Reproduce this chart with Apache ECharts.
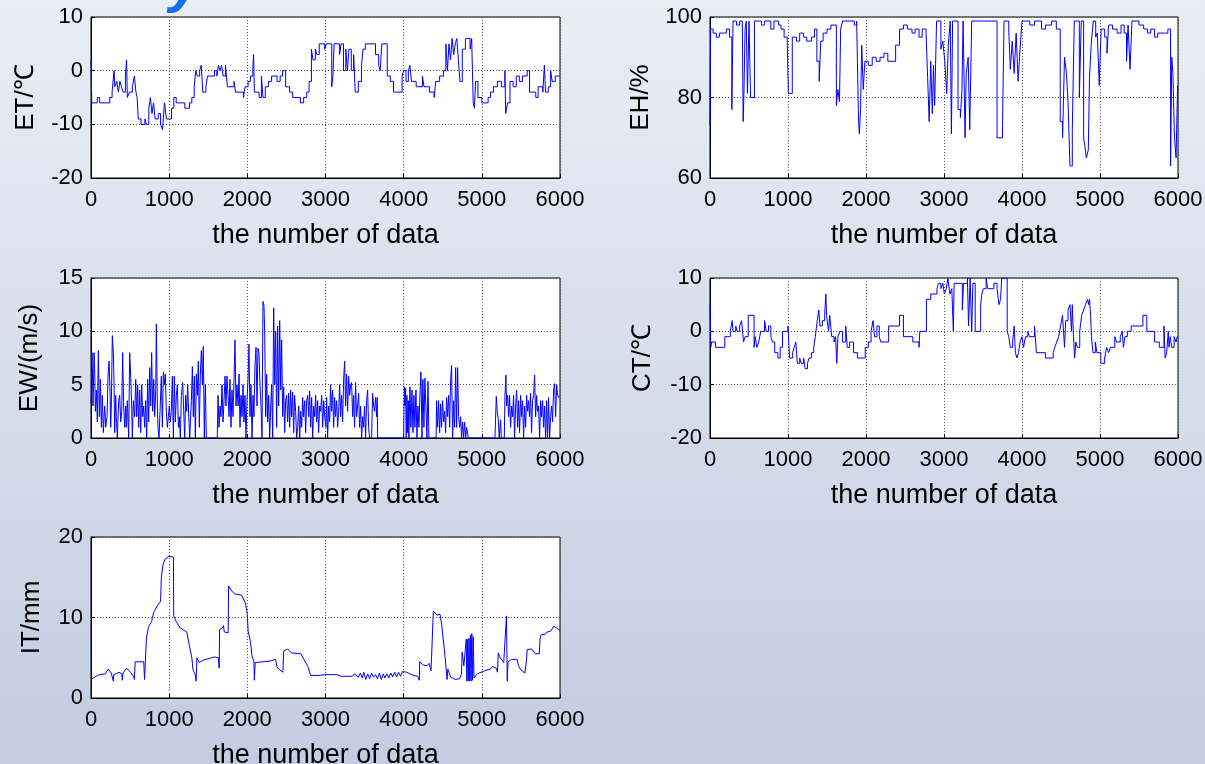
<!DOCTYPE html>
<html>
<head>
<meta charset="utf-8">
<script src="https://cdn.jsdelivr.net/npm/echarts@6/dist/echarts.min.js"></script>
<style>
html,body{margin:0;padding:0;}
#chart{width:1205px;height:764px;}
</style>
</head>
<body>
<div id="chart"></div>
<script>
// ---- data (x = index of data, y = value) ----
const xTicks = [0, 1000, 2000, 3000, 4000, 5000, 6000];
const xName = 'the number of data';
const yNames = ['ET/℃', 'EH/%', 'EW/(m/s)', 'CT/℃', 'IT/mm'];

const etPoints = [[0,2],[10,-6],[80,-5],[110,-6],[240,-5],[270,-4],[295,0],[305,-3],[330,-2],[350,-4],[370,-2],[390,-3],[410,-4],[440,-1],[455,2],[465,-5],[490,-4],[530,-3],[555,-1],[575,-4],[590,-5],[605,-9],[640,-10],[690,-9],[710,-10],[740,-7],[760,-5],[780,-8],[800,-6],[820,-9],[860,-8],[890,-10],[915,-11],[940,-6],[965,-9],[1030,-7],[1060,-5],[1090,-6],[1200,-7],[1260,-6],[1290,-5],[1320,-3],[1340,0],[1360,-1],[1390,0],[1410,1],[1430,-4],[1470,-3],[1490,-1],[1580,0],[1610,-1],[1630,1],[1650,0],[1670,1],[1690,-1],[1720,1],[1745,-3],[1830,-2],[1850,-4],[1950,-5],[1970,-3],[2010,-2],[2040,-1],[2070,0],[2080,3],[2090,-4],[2150,-5],[2180,-1],[2200,-5],[2230,-3],[2270,-2],[2310,-1],[2380,-2],[2420,-1],[2450,0],[2490,-3],[2540,-4],[2580,-5],[2680,-6],[2720,-5],[2760,-4],[2790,-2],[2820,4],[2840,2],[2870,4],[2890,3],[2920,5],[2990,4],[3010,5],[3080,-3],[3095,-1],[3110,5],[3180,3],[3200,5],[3230,0],[3260,4],[3280,0],[3300,4],[3330,0],[3360,3],[3380,-4],[3420,-2],[3460,1],[3480,4],[3510,5],[3640,3],[3680,1],[3700,0],[3720,5],[3790,-1],[3830,-2],[3870,-4],[3980,-1],[4000,0],[4030,-2],[4060,0],[4080,1],[4100,-2],[4160,-3],[4240,-1],[4260,-3],[4330,-4],[4390,-5],[4410,-2],[4460,-1],[4510,0],[4540,5],[4560,0],[4580,5],[4600,2],[4620,6],[4640,3],[4660,5],[4680,6],[4700,2],[4720,-2],[4750,4],[4790,6],[4850,4],[4870,6],[4890,-6],[4905,-7],[4920,-2],[4950,-5],[5000,-6],[5080,-5],[5110,-4],[5150,-3],[5200,-2],[5250,-3],[5295,0],[5305,-8],[5330,-6],[5360,-2],[5400,-3],[5440,-1],[5480,-2],[5520,-1],[5580,0],[5610,-4],[5690,-5],[5720,-3],[5780,-4],[5800,1],[5815,-4],[5850,-3],[5880,0],[5900,-2],[5940,-1],[6000,-1]];

const ehPoints = [[0,73],[8,97],[40,96],[80,95],[120,96],[210,97],[250,95],[280,77],[295,99],[340,98],[380,99],[415,97],[425,74],[435,81],[450,97],[465,99],[480,81],[500,99],[520,80],[570,99],[660,98],[700,99],[780,97],[820,99],[880,98],[910,97],[950,95],[990,94],[1005,81],[1055,95],[1110,94],[1150,96],[1200,95],[1240,94],[1300,95],[1340,97],[1370,89],[1400,84],[1420,94],[1450,96],[1500,97],[1550,98],[1620,78],[1640,82],[1660,79],[1675,97],[1700,99],[1850,98],[1880,99],[1905,74],[1915,71],[1930,77],[1945,93],[1965,82],[1985,89],[2030,88],[2080,90],[2130,89],[2180,90],[2230,91],[2280,89],[2380,93],[2430,97],[2480,98],[2530,97],[2590,96],[2630,97],[2680,95],[2720,97],[2770,96],[2790,85],[2810,74],[2830,89],[2850,76],[2865,88],[2880,78],[2905,99],[2960,92],[2985,94],[3010,89],[3035,81],[3055,93],[3080,99],[3095,71],[3110,99],[3180,77],[3210,75],[3230,82],[3245,99],[3270,70],[3285,86],[3310,90],[3330,72],[3355,99],[3680,70],[3750,73],[3770,99],[3830,97],[3850,87],[3875,94],[3900,86],[3925,96],[3950,84],[3975,92],[4000,99],[4100,98],[4160,99],[4250,97],[4300,98],[4380,99],[4440,97],[4490,74],[4520,70],[4545,90],[4570,86],[4590,79],[4615,63],[4645,72],[4670,99],[4735,80],[4760,99],[4790,70],[4805,68],[4825,65],[4850,67],[4865,85],[4890,94],[4915,99],[4945,95],[4965,96],[4990,83],[5015,97],[5060,95],[5090,91],[5110,98],[5160,97],[5220,96],[5270,98],[5310,96],[5340,89],[5360,98],[5385,87],[5410,99],[5500,98],[5560,97],[5610,96],[5650,97],[5700,95],[5740,96],[5870,97],[5905,63],[5920,90],[5935,86],[5955,70],[5975,65],[5995,83],[6000,83]];

const ewPoints = [[0,3.5],[5,4],[13,8],[26,3],[39,8],[47,6.5],[56,2.5],[69,4.5],[81,1.5],[94,8.2],[107,2],[120,5.5],[133,1],[145,4],[158,0.5],[175,3],[188,1],[205,2],[218,5.8],[231,7.2],[243,4.5],[252,1],[260,3],[273,9.6],[286,8],[295,5],[303,0.5],[316,4],[324,2],[337,0],[354,3.5],[367,4],[380,1.5],[393,2.5],[405,8],[418,3],[431,1],[444,3],[452,1],[465,3.5],[482,0],[495,8],[508,5.8],[521,3],[529,0],[542,3.5],[559,2],[572,5.5],[585,2],[597,5],[610,1],[623,4.5],[636,0.5],[649,5],[661,2],[674,3],[687,1],[700,3.5],[712,0],[725,5.5],[738,1.5],[751,6.6],[764,3],[776,8],[789,2.5],[802,5.5],[815,2],[828,4.5],[836,10.7],[849,3],[857,1],[870,0],[883,2.5],[900,5.8],[913,1],[926,6.2],[938,5],[951,6],[964,2.5],[977,1],[990,2],[1002,3],[1015,1.5],[1028,2.5],[1041,5.8],[1054,0],[1066,5.8],[1079,1.5],[1092,4],[1105,5],[1118,1],[1130,2],[1143,0],[1156,4],[1173,5.2],[1186,2.5],[1199,0],[1211,4],[1224,2.5],[1237,5],[1250,2],[1263,0],[1284,3.5],[1297,6.7],[1309,2],[1322,5.8],[1335,0],[1348,6],[1361,4],[1373,7.2],[1386,1],[1399,6],[1412,8.2],[1425,5],[1437,8.6],[1450,0],[1463,5],[1476,0],[1615,0],[1625,4],[1638,1],[1651,3],[1663,2],[1676,5],[1689,1.5],[1702,3.5],[1715,5.8],[1727,3],[1740,5.8],[1753,4],[1766,2],[1778,5.5],[1791,1],[1804,4.5],[1817,2],[1830,5.5],[1842,9.2],[1855,3],[1868,5],[1881,3],[1894,6],[1906,1],[1919,4],[1932,2],[1945,5],[1957,1.5],[1970,4],[1983,0],[1996,3.5],[2009,5.5],[2021,8.8],[2034,2],[2047,5],[2060,0],[2073,4],[2085,2],[2098,6.8],[2111,8.5],[2124,3],[2136,8.4],[2149,8],[2162,5],[2175,3],[2188,0],[2200,12.8],[2213,12.4],[2222,10],[2235,2],[2248,6],[2260,1.5],[2273,4],[2286,0],[2299,3],[2311,5],[2324,0],[2337,12.2],[2350,5],[2363,10],[2375,1],[2388,10.5],[2401,3],[2414,11],[2427,4.5],[2439,9.2],[2452,2],[2465,4.8],[2478,0.5],[2490,3.5],[2503,4],[2516,1.5],[2529,4.2],[2542,1],[2554,4.5],[2567,2],[2580,4.3],[2593,0.5],[2605,4],[2618,2.5],[2631,0],[2644,1],[2657,3],[2670,0],[2682,2.5],[2695,1],[2708,3.8],[2720,2],[2734,3.5],[2746,0.5],[2759,3.5],[2772,4],[2785,2],[2797,4.4],[2810,1],[2823,3.8],[2836,0],[2849,3],[2862,2],[2874,4],[2887,1.5],[2900,3.5],[2912,0.5],[2925,3],[2938,2.5],[2951,4],[2964,1],[2977,3.5],[2990,2],[3006,1],[3014,3.8],[3027,0],[3040,3],[3053,1.5],[3065,5],[3078,2.5],[3091,4.5],[3104,1],[3117,3.8],[3129,2],[3142,3.5],[3155,1],[3168,2.5],[3181,5],[3193,2],[3206,4],[3219,1.5],[3232,5.5],[3245,7.2],[3257,3],[3270,6],[3283,2.5],[3296,5.8],[3309,4],[3321,5],[3334,5.2],[3347,2],[3360,4],[3372,1],[3385,5.2],[3398,2],[3411,3],[3424,4.2],[3436,1],[3449,3],[3462,0],[3475,2],[3488,1],[3500,3],[3513,0],[3526,3.5],[3539,4.5],[3552,1],[3564,0],[3590,0],[3603,4.2],[3616,3],[3628,2.5],[3641,3.8],[3654,2],[3662,3.8],[3667,0],[4000,0],[4008,4.8],[4016,3],[4025,4.7],[4033,0],[4042,4],[4050,0.5],[4059,3.5],[4067,0],[4080,4.8],[4093,1],[4106,4.5],[4119,0.5],[4131,4],[4144,1],[4157,4.5],[4170,0],[4183,3],[4195,1],[4208,4],[4221,6.2],[4234,0],[4246,5.5],[4259,1],[4272,5.6],[4285,5.5],[4298,0],[4311,5.3],[4323,0],[4415,0],[4421,3.5],[4434,1],[4447,3.5],[4460,0.5],[4473,3.2],[4485,1],[4498,3.5],[4511,1.5],[4524,2.5],[4537,0.5],[4549,3.8],[4562,2],[4575,4],[4588,1],[4601,5.5],[4613,6.8],[4626,0],[4639,3.5],[4652,1],[4665,6.6],[4677,1],[4690,6.6],[4703,2],[4716,1],[4729,2],[4741,0],[4754,1.5],[4767,0],[4780,1.5],[4793,0],[4805,1],[4818,1],[4827,0],[5168,0],[5185,3.9],[5197,2.5],[5210,1.8],[5223,0],[5240,1.7],[5249,0],[5287,0],[5296,4],[5308,5.9],[5317,3],[5330,4],[5342,2],[5355,4],[5368,1],[5381,3],[5394,2],[5406,4],[5419,0],[5432,3],[5445,4.5],[5458,1],[5470,3.5],[5483,0.5],[5496,4],[5509,2],[5521,3.5],[5534,0],[5547,3],[5560,1],[5573,4],[5586,2.5],[5598,3.5],[5611,2],[5624,4.2],[5636,0.5],[5649,3.5],[5662,4],[5675,5.9],[5688,2],[5701,4],[5713,2.5],[5726,3],[5739,0],[5752,3.5],[5765,2],[5777,3.5],[5790,1],[5803,3],[5816,0],[5829,3.5],[5841,0],[5854,3.8],[5867,0],[5880,2],[5893,3],[5905,1.5],[5918,4.5],[5931,5.1],[5944,2],[5957,5],[5969,4],[5982,3.8],[6000,4]];

const ctPoints = [[0,5],[10,-3],[20,-2],[70,-3],[190,-1],[260,0],[285,2],[295,0],[330,1],[350,0],[380,1],[405,2],[430,-2],[450,-1],[490,3],[565,-3],[580,-1],[600,-3],[625,-2],[650,0],[700,2],[720,0],[750,1],[780,-1],[800,-2],[830,-4],[870,-5],[900,-3],[930,0],[1000,1],[1020,-5],[1060,-4],[1080,-3],[1100,-2],[1120,-6],[1150,-5],[1170,-6],[1200,-5],[1220,-7],[1250,-6],[1270,-5],[1300,-4],[1330,-3],[1350,-1],[1375,2],[1395,4],[1410,1],[1440,2],[1470,3],[1485,7],[1495,3],[1520,0],[1535,3],[1560,-1],[1590,-2],[1610,-1],[1625,-6],[1640,-1],[1665,0],[1700,-2],[1740,1],[1760,-3],[1790,-2],[1840,-4],[1890,-5],[1990,-3],[2030,-2],[2065,0],[2090,2],[2110,-1],[2140,1],[2170,-1],[2190,-2],[2290,1],[2430,3],[2480,-1],[2600,-2],[2680,-3],[2690,0],[2775,6],[2830,7],[2910,8],[2930,9],[2960,8],[2985,9],[3005,7],[3030,8],[3050,10],[3075,7],[3100,8],[3120,0],[3130,9],[3235,4],[3250,9],[3300,10],[3315,1],[3335,10],[3355,0],[3370,9],[3400,0],[3470,5],[3485,7],[3505,8],[3540,10],[3560,8],[3640,9],[3680,8],[3705,5],[3725,6],[3740,10],[3810,0],[3830,-1],[3850,-3],[3880,-2],[3900,1],[3915,-4],[3935,-5],[3955,-4],[3975,-2],[4000,-1],[4020,-3],[4045,-1],[4075,0],[4095,-1],[4160,1],[4185,-4],[4300,-5],[4400,-4],[4420,-3],[4445,-2],[4470,-1],[4495,1],[4520,3],[4545,-3],[4560,2],[4590,4],[4615,5],[4635,0],[4645,5],[4660,-1],[4675,-5],[4690,-2],[4710,-3],[4740,0],[4765,3],[4790,4],[4815,5],[4840,6],[4855,5],[4865,6],[4880,3],[4890,-1],[4910,-4],[4940,-2],[4960,-4],[5010,-6],[5060,-5],[5085,-3],[5110,-4],[5135,-3],[5190,-1],[5210,-2],[5260,-1],[5285,0],[5300,-3],[5320,-1],[5350,0],[5400,1],[5550,3],[5600,0],[5700,-2],[5760,-3],[5820,1],[5835,-5],[5855,-4],[5875,0],[5885,-3],[5900,-1],[5920,-3],[5950,-1],[5975,-2],[5990,-1],[6000,-1]];

const itPoints = [[0,2.3],[30,2.5],[65,2.7],[110,2.9],[185,3.0],[220,3.6],[260,3.1],[280,3.0],[285,2.1],[292,2.9],[360,3.2],[395,3.0],[400,2.2],[410,3.1],[455,3.7],[505,3.2],[550,2.6],[555,2.3],[565,4.5],[675,4.5],[685,2.3],[700,5.5],[710,7.5],[735,8.8],[775,9.5],[800,10.6],[850,11.5],[890,12],[900,15],[920,16.5],[945,17.2],[995,17.6],[1055,17.5],[1058,10.2],[1090,9.5],[1140,8.7],[1190,8.4],[1225,8.2],[1265,6.2],[1290,5.0],[1305,3.5],[1330,3.0],[1345,2.1],[1355,5.0],[1385,4.4],[1435,4.7],[1510,4.9],[1580,5.1],[1630,5.0],[1640,3.7],[1645,8.5],[1680,8.7],[1695,9.0],[1705,8.2],[1755,8.1],[1760,13.9],[1780,14],[1800,13.3],[1840,12.9],[1925,12.8],[1975,11.8],[2000,10.4],[2010,8.3],[2040,7.0],[2060,5.2],[2085,4.5],[2090,2.2],[2100,4.4],[2295,4.6],[2310,4.8],[2360,4.8],[2380,3.8],[2415,3.5],[2455,3.2],[2465,5.8],[2515,6.1],[2565,5.6],[2685,5.5],[2735,4.6],[2775,3.9],[2810,2.8],[2905,2.8],[3005,2.9],[3150,2.9],[3200,2.7],[3345,2.7],[3370,3.0],[3395,3.2],[3420,2.6],[3445,3.1],[3470,2.5],[3490,3.2],[3515,2.3],[3540,3.0],[3565,2.4],[3590,3.1],[3615,2.6],[3640,2.9],[3665,2.4],[3690,3.1],[3715,2.3],[3740,3.0],[3760,2.5],[3785,3.0],[3810,2.5],[3835,3.1],[3860,2.6],[3885,3.2],[3910,2.6],[3935,3.2],[3960,2.7],[3985,3.3],[4005,3.4],[4040,3.2],[4080,3.0],[4130,2.8],[4180,2.7],[4200,2.2],[4205,4.5],[4250,4.1],[4300,4.0],[4325,4.3],[4350,3.4],[4375,3.2],[4380,10.8],[4425,10.3],[4465,10.4],[4485,9.2],[4520,6.1],[4545,3.5],[4555,2.3],[4565,3.6],[4600,2.6],[4660,2.3],[4715,2.4],[4740,3.0],[4748,5.7],[4770,4.0],[4790,3.8],[4800,7.3],[4808,2.1],[4818,7.3],[4826,2.1],[4836,7.4],[4844,2.1],[4854,7.8],[4862,2.1],[4872,8.0],[4880,2.2],[4890,7.6],[4900,2.5],[4940,3.0],[4990,3.2],[5040,3.4],[5110,3.6],[5135,3.9],[5185,3.7],[5200,3.2],[5210,5.6],[5235,5.0],[5280,4.4],[5305,4.5],[5315,10.2],[5325,2.1],[5335,4.5],[5380,4.8],[5450,4.8],[5470,4.0],[5500,3.5],[5550,3.1],[5570,4.5],[5580,6.0],[5635,6.1],[5660,5.9],[5685,5.5],[5735,5.5],[5745,7.4],[5760,7.9],[5810,7.9],[5835,8.2],[5880,8.3],[5920,8.9],[5955,8.7],[6000,8.4]];

const yRanges = [[-20,10,10],[60,100,20],[0,15,5],[-20,10,10],[0,20,10]];
const seriesData = [etPoints, ehPoints, ewPoints, ctPoints, itPoints];
const stepped = [true, true, false, true, false];

// ---- layout ----
const FONT = 'Liberation Sans, Arial, sans-serif';
const grids = [
  {left: 91, top: 17, width: 469, height: 161},
  {left: 710, top: 17, width: 468, height: 161},
  {left: 91, top: 278, width: 469, height: 160},
  {left: 710, top: 278, width: 468, height: 160},
  {left: 91, top: 537, width: 469, height: 161}
].map(g => Object.assign({show: true, backgroundColor: '#ffffff', borderColor: '#000', borderWidth: 1, containLabel: false, outerBoundsMode: 'none'}, g));

const yNameGaps = [52, 56, 48, 54, 46];

const xAxes = grids.map((g, i) => ({
  type: 'value', gridIndex: i, min: xTicks[0], max: xTicks[xTicks.length - 1],
  interval: xTicks[1] - xTicks[0],
  name: xName, nameLocation: 'middle', nameGap: 44,
  nameTextStyle: {fontSize: 27, color: '#000', fontFamily: FONT},
  axisLine: {show: true, onZero: false, lineStyle: {color: '#000', width: 1}},
  axisTick: {show: true, inside: true, length: 4, lineStyle: {color: '#000'}},
  axisLabel: {fontSize: 22, color: '#000', fontFamily: FONT, margin: 11, showMinLabel: true, showMaxLabel: true, hideOverlap: false,
    formatter: v => String(v)},
  splitLine: {show: true, lineStyle: {color: '#555', width: 1, type: [1, 2]}}
}));

const yAxes = grids.map((g, i) => ({
  type: 'value', gridIndex: i, min: yRanges[i][0], max: yRanges[i][1], interval: yRanges[i][2],
  name: yNames[i], nameLocation: 'middle', nameGap: yNameGaps[i], nameRotate: 90,
  nameTextStyle: {fontSize: 26, color: '#000', fontFamily: FONT},
  axisLine: {show: true, onZero: false, lineStyle: {color: '#000', width: 1}},
  axisTick: {show: true, inside: true, length: 4, lineStyle: {color: '#000'}},
  axisLabel: {fontSize: 22, color: '#000', fontFamily: FONT, margin: 8, showMinLabel: true, showMaxLabel: true,
    formatter: v => String(v)},
  splitLine: {show: true, lineStyle: {color: '#555', width: 1, type: [1, 2]}}
}));

const series = seriesData.map((d, i) => ({
  type: 'line', xAxisIndex: i, yAxisIndex: i, data: d,
  symbol: 'none', showSymbol: false, step: stepped[i] ? 'end' : false,
  lineStyle: {color: '#0000ff', width: 1}, clip: true, silent: true, animation: false
}));

const chart = echarts.init(document.getElementById('chart'), null, {renderer: 'canvas'});
chart.setOption({
  animation: false,
  backgroundColor: new echarts.graphic.LinearGradient(0, 0, 0, 1, [
    {offset: 0, color: '#eaedf4'}, {offset: 1, color: '#c3cde1'}
  ]),
  grid: grids, xAxis: xAxes, yAxis: yAxes, series: series,
  graphic: [{
    type: 'text', left: 169, top: -44, silent: true,
    style: {text: 'y', fontSize: 58, fontWeight: 'bold', fontStyle: 'italic', fontFamily: FONT, fill: '#1670e8'}
  }]
});
</script>
</body>
</html>
